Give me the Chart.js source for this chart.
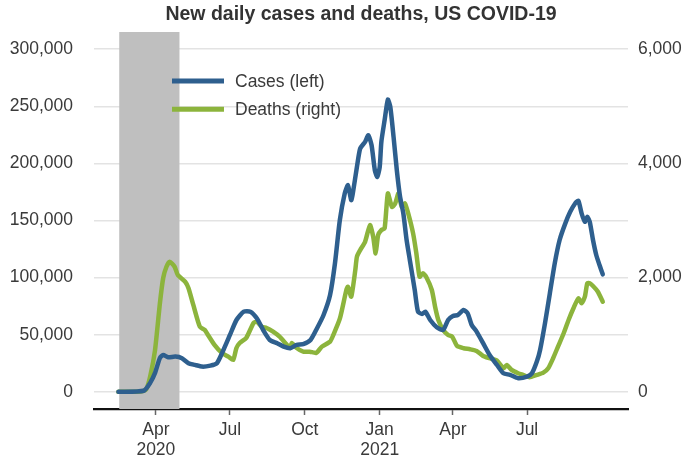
<!DOCTYPE html>
<html>
<head>
<meta charset="utf-8">
<script src="https://cdn.jsdelivr.net/npm/chart.js@4/dist/chart.umd.min.js"></script>
<style>
  html, body { margin: 0; padding: 0; background: #ffffff; }
  #wrap { width: 685px; height: 464px; }
</style>
</head>
<body>
<div id="wrap"><canvas id="c" width="685" height="464"></canvas></div>
<script>
const chartTitle = 'New daily cases and deaths, US COVID-19';
const seriesLabels = ['Cases (left)', 'Deaths (right)'];

const caseDates = ['2020-02-15','2020-03-17','2020-03-25','2020-03-31','2020-04-06','2020-04-10','2020-04-16','2020-04-25','2020-05-03','2020-05-11','2020-05-19','2020-05-28','2020-06-07','2020-06-15','2020-06-23','2020-07-01','2020-07-09','2020-07-18','2020-07-26','2020-08-03','2020-08-11','2020-08-19','2020-08-28','2020-09-05','2020-09-13','2020-09-21','2020-09-29','2020-10-08','2020-10-16','2020-10-24','2020-11-01','2020-11-07','2020-11-13','2020-11-19','2020-11-23','2020-11-27','2020-11-29','2020-12-04','2020-12-08','2020-12-14','2020-12-18','2020-12-22','2020-12-26','2020-12-29','2021-01-01','2021-01-03','2021-01-07','2021-01-11','2021-01-14','2021-01-18','2021-01-22','2021-01-26','2021-01-30','2021-02-03','2021-02-07','2021-02-13','2021-02-17','2021-02-22','2021-02-26','2021-03-04','2021-03-12','2021-03-20','2021-03-26','2021-04-01','2021-04-07','2021-04-14','2021-04-19','2021-04-24','2021-04-30','2021-05-08','2021-05-16','2021-05-25','2021-06-02','2021-06-10','2021-06-20','2021-07-01','2021-07-07','2021-07-13','2021-07-17','2021-07-23','2021-07-29','2021-08-04','2021-08-10','2021-08-17','2021-08-23','2021-08-29','2021-09-02','2021-09-06','2021-09-10','2021-09-13','2021-09-16','2021-09-20','2021-09-24','2021-09-28','2021-10-02'];
const caseValues = [0,1000,7900,16600,29700,32300,30300,30900,29500,25100,23600,22100,23000,25100,36700,49800,62900,70200,70200,64400,53900,45400,42600,39600,38200,41100,41700,45400,55700,67300,84800,112500,150300,173700,180900,167800,174000,196900,213000,218800,224600,215900,194000,188200,196900,218800,237800,255800,249400,223200,194000,170700,156200,133000,115400,89200,70200,68200,70200,62900,56600,54200,62900,66400,67300,71700,68800,58600,52700,42600,32300,23600,16300,14900,12000,13400,16300,26500,36700,60000,86300,112500,132900,147500,157600,164900,167200,156200,148900,153200,148900,132900,119800,111000,102900];

const deathDates = ['2020-02-15','2020-03-13','2020-03-20','2020-03-25','2020-03-31','2020-04-06','2020-04-10','2020-04-14','2020-04-18','2020-04-24','2020-04-28','2020-05-07','2020-05-11','2020-05-17','2020-05-25','2020-05-31','2020-06-04','2020-06-12','2020-06-21','2020-06-29','2020-07-05','2020-07-09','2020-07-13','2020-07-21','2020-07-30','2020-08-03','2020-08-09','2020-08-15','2020-08-23','2020-08-31','2020-09-09','2020-09-13','2020-09-15','2020-09-21','2020-09-29','2020-10-07','2020-10-15','2020-10-22','2020-11-01','2020-11-05','2020-11-13','2020-11-21','2020-11-23','2020-11-27','2020-12-02','2020-12-04','2020-12-08','2020-12-14','2020-12-20','2020-12-24','2020-12-27','2020-12-30','2021-01-03','2021-01-07','2021-01-11','2021-01-16','2021-01-20','2021-01-24','2021-01-28','2021-02-01','2021-02-05','2021-02-11','2021-02-15','2021-02-19','2021-02-23','2021-02-27','2021-03-06','2021-03-10','2021-03-14','2021-03-20','2021-03-26','2021-03-31','2021-04-06','2021-04-14','2021-04-22','2021-04-30','2021-05-08','2021-05-16','2021-05-25','2021-06-02','2021-06-06','2021-06-12','2021-06-20','2021-06-26','2021-07-04','2021-07-13','2021-07-21','2021-07-27','2021-08-02','2021-08-08','2021-08-15','2021-08-21','2021-08-27','2021-09-02','2021-09-06','2021-09-10','2021-09-13','2021-09-16','2021-09-20','2021-09-26','2021-10-02'];
const deathValues = [0,5,40,267,734,1556,1993,2190,2278,2190,2045,1928,1818,1521,1141,1084,996,822,682,617,559,769,856,944,1206,1229,1141,1119,1054,967,822,769,856,769,704,704,682,792,879,996,1280,1783,1841,1666,2133,2365,2482,2627,2919,2715,2424,2744,2832,2861,3473,3239,3298,3473,3239,3298,3124,2774,2424,2015,2075,2015,1783,1491,1259,1084,996,967,804,764,746,717,629,589,547,414,472,385,327,297,257,297,337,414,589,792,1026,1259,1463,1638,1550,1666,1900,1900,1853,1753,1578];

const xTickDates = ['2020-04-01','2020-07-01','2020-10-01','2021-01-01','2021-04-01','2021-07-01'];
const xTickLabels = [['Apr','2020'],'Jul','Oct',['Jan','2021'],'Apr','Jul'];
const xRange = ['2020-01-16','2021-11-02'];
const leftTicks = [0,50000,100000,150000,200000,250000,300000];
const leftRange = [-15000,315000];
const rightTicks = [0,2000,4000,6000];
const rightRange = [-300,6300];
const recession = ['2020-02-16','2020-04-30'];

const BLUE = '#2e5f8e';
const GREEN = '#8cb43c';
const TEXT = '#3a3a3a';
const FONT = '"Liberation Sans", Arial, Helvetica, sans-serif';

function dayNum(s) {
  const p = s.split('-').map(Number);
  return (Date.UTC(p[0], p[1] - 1, p[2]) - Date.UTC(2020, 0, 1)) / 86400000;
}

Chart.defaults.font.family = FONT;
Chart.defaults.color = TEXT;

const shadePlugin = {
  id: 'shade',
  beforeDatasetsDraw(chart) {
    const ctx = chart.ctx, ca = chart.chartArea, x = chart.scales.x;
    const x0 = x.getPixelForValue(dayNum(recession[0]));
    const x1 = x.getPixelForValue(dayNum(recession[1]));
    ctx.save();
    ctx.fillStyle = '#bfbfbf';
    ctx.fillRect(x0, ca.top, x1 - x0, ca.bottom - ca.top);
    ctx.restore();
  }
};

const titleLegendPlugin = {
  id: 'titleLegend',
  afterDraw(chart) {
    const ctx = chart.ctx, ca = chart.chartArea;
    ctx.save();
    ctx.fillStyle = '#333333';
    ctx.font = 'bold 19.5px ' + FONT;
    ctx.textAlign = 'center';
    ctx.textBaseline = 'middle';
    ctx.fillText(chartTitle, (ca.left + ca.right) / 2, 15);
    const lx = ca.left + 78, ly = ca.top + 49, gap = 28.3;
    chart.data.datasets.forEach((ds, i) => {
      const y = ly + i * gap;
      ctx.strokeStyle = ds.borderColor;
      ctx.lineWidth = 5;
      ctx.lineCap = 'butt';
      ctx.beginPath();
      ctx.moveTo(lx, y);
      ctx.lineTo(lx + 52, y);
      ctx.stroke();
      ctx.fillStyle = TEXT;
      ctx.font = '17.5px ' + FONT;
      ctx.textAlign = 'left';
      ctx.textBaseline = 'middle';
      ctx.fillText(ds.label, lx + 63, y + 1);
    });
    ctx.restore();
  }
};

const tickFont = { size: 17.5, family: FONT };

new Chart(document.getElementById('c'), {
  type: 'line',
  data: {
    datasets: [
      {
        label: seriesLabels[0],
        data: caseDates.map((d, i) => ({ x: dayNum(d), y: caseValues[i] })),
        yAxisID: 'yL',
        borderColor: BLUE,
        borderWidth: 4.5,
        pointRadius: 0,
        tension: 0.2,
        borderJoinStyle: 'round',
        borderCapStyle: 'round',
        fill: false
      },
      {
        label: seriesLabels[1],
        data: deathDates.map((d, i) => ({ x: dayNum(d), y: deathValues[i] })),
        yAxisID: 'yR',
        borderColor: GREEN,
        borderWidth: 4.5,
        pointRadius: 0,
        tension: 0.2,
        borderJoinStyle: 'round',
        borderCapStyle: 'round',
        fill: false
      }
    ]
  },
  options: {
    responsive: false,
    animation: false,
    layout: { padding: { left: 0, right: 0, top: 32, bottom: 0 } },
    plugins: {
      legend: { display: false },
      title: { display: false },
      tooltip: { enabled: false }
    },
    scales: {
      x: {
        type: 'linear',
        min: dayNum(xRange[0]),
        max: dayNum(xRange[1]),
        afterBuildTicks(s) { s.ticks = xTickDates.map(d => ({ value: dayNum(d) })); },
        afterFit(s) { s.height = 55; },
        ticks: {
          autoSkip: false,
          maxRotation: 0,
          minRotation: 0,
          padding: 6,
          font: Object.assign({ lineHeight: 1.1 }, tickFont),
          color: TEXT,
          callback: (v, i) => xTickLabels[i]
        },
        grid: { drawOnChartArea: false, drawTicks: true, tickLength: 6, tickColor: '#666666', tickWidth: 1.5 },
        border: { display: true, color: '#111111', width: 2.2 }
      },
      yL: {
        type: 'linear',
        position: 'left',
        min: leftRange[0],
        max: leftRange[1],
        afterBuildTicks(s) { s.ticks = leftTicks.map(v => ({ value: v })); },
        afterFit(s) { s.width = 94; },
        ticks: {
          padding: 21,
          font: tickFont,
          color: TEXT,
          callback: v => v.toLocaleString('en-US')
        },
        grid: { color: '#e3e3e3', lineWidth: 1.5, drawTicks: false },
        border: { display: false }
      },
      yR: {
        type: 'linear',
        position: 'right',
        min: rightRange[0],
        max: rightRange[1],
        afterBuildTicks(s) { s.ticks = rightTicks.map(v => ({ value: v })); },
        afterFit(s) { s.width = 57; },
        ticks: {
          padding: 10,
          font: tickFont,
          color: TEXT,
          callback: v => v.toLocaleString('en-US')
        },
        grid: { drawOnChartArea: false, drawTicks: false },
        border: { display: false }
      }
    }
  },
  plugins: [shadePlugin, titleLegendPlugin]
});
</script>
</body>
</html>
